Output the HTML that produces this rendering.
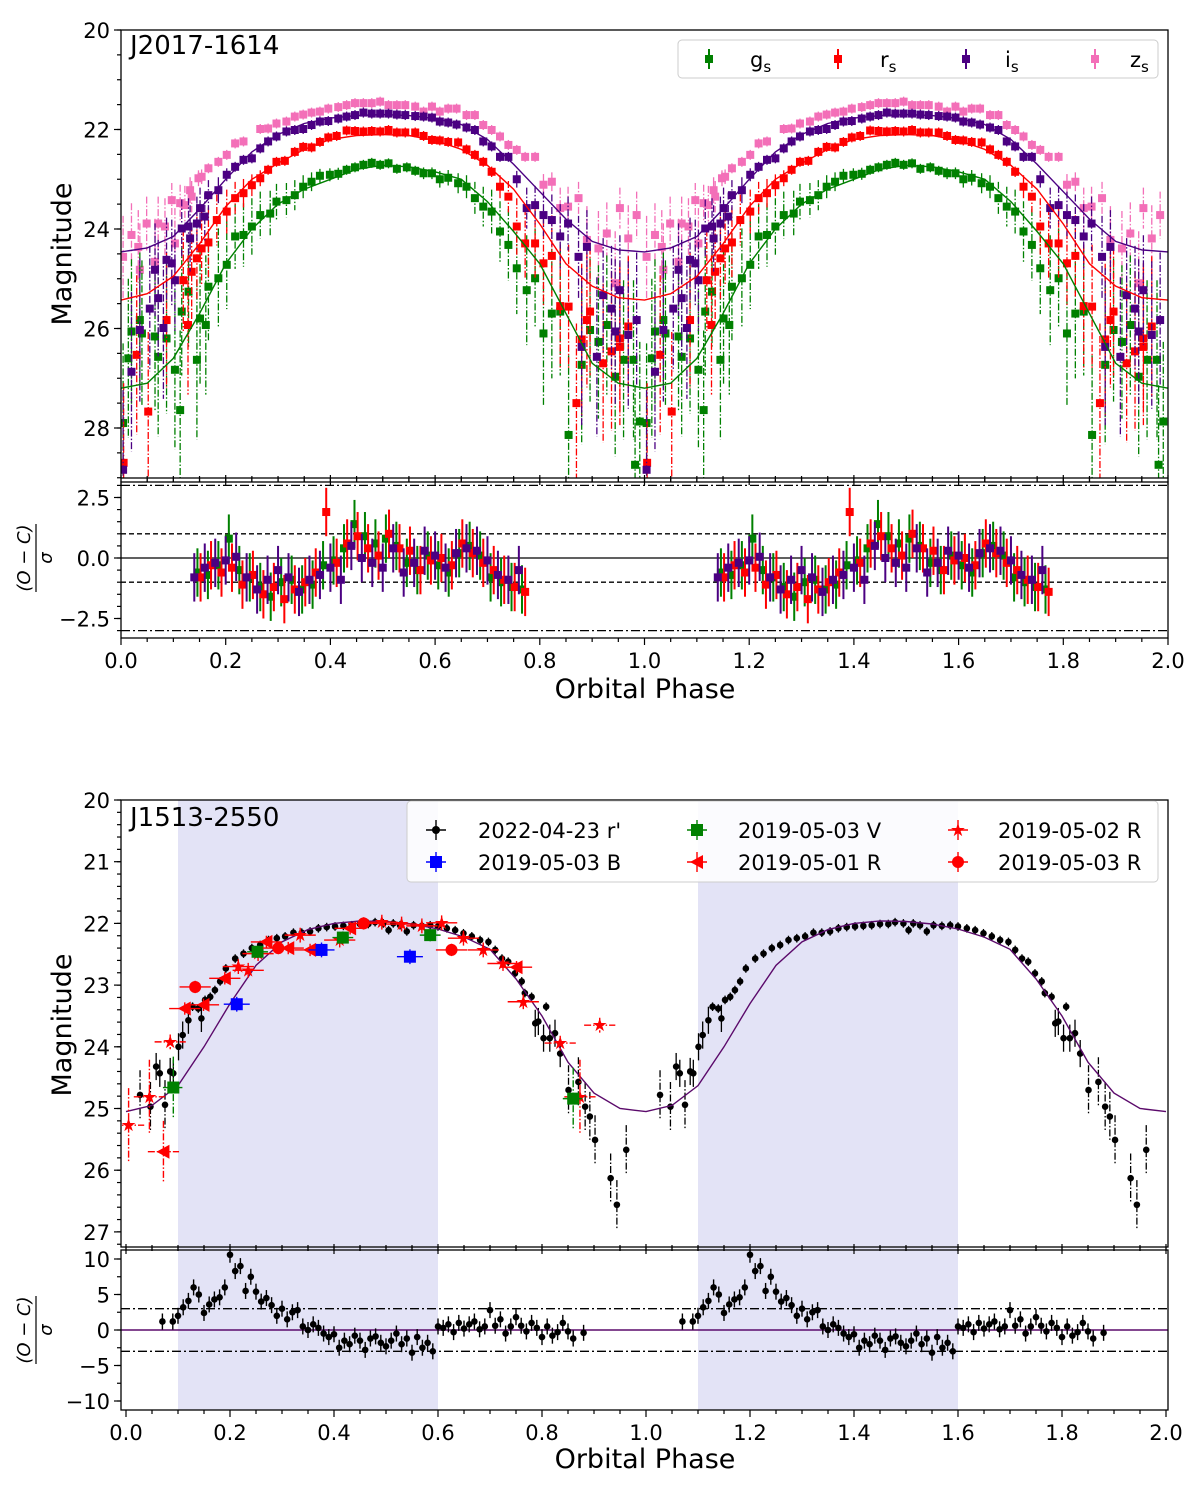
<!DOCTYPE html>
<html><head><meta charset="utf-8"><style>
body{margin:0;background:#fff}
svg text{font-family:"DejaVu Sans","Liberation Sans",sans-serif;fill:#000}
</style></head><body>
<svg id="fig" width="1200" height="1485" viewBox="0 0 1200 1485" xmlns="http://www.w3.org/2000/svg">
<defs>
<clipPath id="c1"><rect x="121" y="30" width="1047" height="448"/></clipPath>
<clipPath id="c2"><rect x="121" y="482" width="1047" height="156"/></clipPath>
<clipPath id="c3"><rect x="121" y="800" width="1047" height="447"/></clipPath>
<clipPath id="c4"><rect x="121" y="1250" width="1047" height="160"/></clipPath>
</defs>
<g id="layer"></g>
</svg>
<script>
// ---------- Top panel data (J2017-1614) ----------
const gPh = [0.004,0.014,0.020,0.036,0.040,0.065,0.071,0.087,0.103,0.113,0.116,0.129,0.145,0.151,0.162,0.167,0.186,0.202,0.218,0.234,0.250,0.266,0.285,0.297,0.316,0.332,0.348,0.364,0.380,0.399,0.415,0.431,0.447,0.463,0.479,0.495,0.511,0.527,0.546,0.562,0.578,0.594,0.609,0.625,0.644,0.660,0.676,0.692,0.708,0.724,0.740,0.756,0.775,0.791,0.807,0.823,0.839,0.855,0.880,0.896,0.912,0.928,0.944,0.960,0.979,0.982,0.991];
const gMag = [27.9,26.6,26.06,25.83,26.1,26.16,26.57,26.2,26.83,27.64,25.66,25.26,26.63,25.8,25.93,25.16,24.99,24.72,24.15,24.12,23.95,23.72,23.69,23.45,23.42,23.32,23.15,23.05,22.93,22.91,22.89,22.81,22.76,22.71,22.67,22.71,22.68,22.79,22.76,22.83,22.88,22.88,23.0,22.97,23.08,23.15,23.38,23.55,23.65,24.05,24.32,24.79,25.23,24.99,26.1,25.7,25.66,28.14,26.73,26.03,26.27,25.93,26.97,26.63,26.63,28.74,27.87];
const rPh = [0.005,0.030,0.052,0.087,0.119,0.128,0.135,0.145,0.154,0.167,0.183,0.202,0.218,0.234,0.250,0.266,0.281,0.297,0.313,0.332,0.348,0.364,0.380,0.396,0.412,0.431,0.447,0.463,0.479,0.495,0.511,0.527,0.543,0.562,0.578,0.594,0.609,0.625,0.644,0.660,0.676,0.692,0.708,0.724,0.740,0.756,0.772,0.791,0.807,0.823,0.839,0.855,0.870,0.880,0.890,0.896,0.921,0.937,0.953,0.953,0.969];
const rMag = [28.7,26.53,27.67,25.83,25.03,25.93,24.86,24.59,24.39,24.27,23.82,23.65,23.38,23.28,23.12,22.98,22.81,22.65,22.63,22.45,22.35,22.36,22.25,22.16,22.13,22.02,22.03,22.04,22.03,22.04,22.01,22.06,22.06,22.06,22.13,22.21,22.22,22.25,22.26,22.4,22.51,22.65,22.85,23.15,23.35,23.95,24.29,24.29,24.69,24.54,25.55,25.56,27.5,26.22,25.83,25.66,26.7,26.46,26.37,26.2,25.96];
const iPh = [0.004,0.020,0.036,0.055,0.065,0.071,0.081,0.087,0.097,0.103,0.116,0.129,0.132,0.145,0.151,0.160,0.167,0.186,0.202,0.218,0.234,0.250,0.266,0.281,0.297,0.316,0.332,0.348,0.364,0.380,0.396,0.415,0.431,0.447,0.463,0.479,0.495,0.511,0.527,0.543,0.562,0.578,0.594,0.609,0.625,0.641,0.660,0.676,0.692,0.708,0.724,0.740,0.756,0.775,0.791,0.807,0.823,0.839,0.854,0.874,0.880,0.890,0.909,0.921,0.937,0.944,0.953,0.969,0.985];
const iMag = [28.84,26.87,26.03,25.6,24.82,25.39,25.99,24.62,24.69,25.03,23.99,23.95,24.19,23.89,23.58,23.75,23.32,23.22,22.91,22.75,22.61,22.58,22.38,22.24,22.14,22.04,22.01,21.99,21.91,21.84,21.83,21.78,21.74,21.71,21.66,21.68,21.68,21.68,21.7,21.71,21.73,21.74,21.76,21.84,21.86,21.9,21.96,22.01,22.24,22.34,22.55,22.55,23.0,23.58,23.52,23.72,23.82,24.15,23.89,24.56,26.37,24.36,26.57,25.33,25.6,26.06,25.23,26.13,25.83];
const zPh = [0.004,0.020,0.033,0.036,0.049,0.065,0.071,0.084,0.097,0.103,0.113,0.122,0.132,0.135,0.148,0.154,0.167,0.186,0.202,0.218,0.234,0.266,0.281,0.297,0.316,0.332,0.348,0.364,0.380,0.396,0.415,0.431,0.447,0.463,0.479,0.495,0.511,0.527,0.543,0.562,0.578,0.594,0.609,0.625,0.641,0.660,0.676,0.692,0.708,0.724,0.740,0.756,0.772,0.791,0.807,0.823,0.839,0.854,0.874,0.890,0.912,0.928,0.944,0.953,0.969,0.985];
const zMag = [24.56,24.12,24.36,24.82,23.89,24.66,23.89,23.95,23.42,24.29,23.48,23.52,23.22,23.35,22.98,22.95,22.78,22.65,22.51,22.28,22.24,21.99,21.98,21.88,21.84,21.74,21.7,21.66,21.64,21.58,21.55,21.51,21.47,21.47,21.47,21.44,21.51,21.51,21.51,21.54,21.64,21.54,21.64,21.58,21.58,21.71,21.71,21.91,22.01,22.14,22.31,22.41,22.55,22.55,23.11,23.05,23.58,23.55,23.38,24.22,24.39,24.09,25.09,23.58,24.19,23.72];
const modelPhases = [0,0.05,0.1,0.15,0.2,0.25,0.3,0.35,0.4,0.45,0.5,0.55,0.6,0.65,0.7,0.75,0.8,0.85,0.9,0.95,1.0];
const gModel = [27.2,27.1,26.6,25.7,24.7,24.0,23.5,23.2,23.0,22.8,22.72,22.75,22.85,23.0,23.45,24.05,24.7,25.7,26.7,27.1,27.2];
const rModel = [25.43,25.3,24.95,24.3,23.55,23.0,22.68,22.4,22.2,22.12,22.1,22.12,22.22,22.4,22.72,23.2,23.9,24.7,25.15,25.38,25.43];
const iModel = [24.46,24.38,24.15,23.6,23.0,22.45,22.1,21.88,21.77,21.72,21.7,21.72,21.78,21.9,22.2,22.7,23.25,23.8,24.25,24.42,24.46];
const resPhases = [0.14,0.16,0.18,0.20,0.22,0.24,0.26,0.28,0.30,0.32,0.34,0.36,0.38,0.40,0.42,0.44,0.46,0.48,0.50,0.52,0.54,0.56,0.58,0.60,0.62,0.64,0.66,0.68,0.70,0.72,0.74,0.76];
const gRes = [-0.6,-0.7,-0.3,0.8,-0.5,-0.8,-1.2,-1.6,-1.0,-0.9,-1.3,-1.1,-0.3,-0.1,0.4,1.4,0.9,0.6,0.8,0.5,-0.2,-0.5,0.1,-0.3,-0.6,0.2,0.5,0.1,-0.8,-1.0,-1.2,-1.3];
const rRes = [-0.8,-0.3,-0.6,-0.4,-1.1,-0.7,-1.5,-1.2,-1.7,-1.3,-1.0,-0.6,1.9,-0.2,0.6,0.9,0.4,0.1,1.0,0.4,0.3,-0.5,-0.1,0.0,-0.3,0.6,0.2,-0.2,-0.5,-0.9,-1.2,-1.4];
const iRes = [-0.8,-0.4,-0.2,-0.1,0.05,-0.8,-1.3,-0.9,-0.5,-0.8,-1.4,-0.9,-0.7,-0.4,-0.9,0.5,0.0,-0.2,-0.4,0.4,-0.6,-0.2,0.3,0.1,-0.4,0.2,0.4,0.3,-0.1,-0.7,-0.9,-0.5];
const topYTicks = [20,22,24,26,28];
const topRTicks = [2.5,0.0,-2.5];
const xTicks = [0.0,0.2,0.4,0.6,0.8,1.0,1.2,1.4,1.6,1.8,2.0];

// ---------- Bottom panel data (J1513-2550) ----------
const bkPhase = [0.027,0.047,0.058,0.065,0.075,0.085,0.091,0.101,0.109,0.120,0.128,0.139,0.145,0.152,0.162,0.171,0.181,0.192,0.210,0.226,0.242,0.258,0.274,0.290,0.306,0.322,0.338,0.354,0.370,0.386,0.402,0.418,0.434,0.450,0.466,0.479,0.495,0.505,0.514,0.527,0.540,0.553,0.569,0.585,0.600,0.617,0.633,0.649,0.665,0.681,0.697,0.710,0.723,0.735,0.748,0.761,0.767,0.780,0.787,0.793,0.803,0.808,0.815,0.825,0.835,0.851,0.870,0.883,0.892,0.902,0.932,0.944,0.962];
const bkMag = [24.78,24.97,24.32,24.43,24.94,24.4,24.43,24.0,23.81,23.57,23.35,23.38,23.54,23.24,23.19,23.08,22.94,22.73,22.57,22.49,22.4,22.35,22.27,22.24,22.21,22.15,22.15,22.13,22.08,22.06,22.05,22.04,22.03,22.01,22.01,21.98,22.0,22.11,22.0,22.03,22.13,22.03,22.04,22.03,22.05,22.08,22.11,22.16,22.21,22.27,22.3,22.43,22.57,22.62,22.81,22.94,23.13,23.19,23.62,23.59,23.86,23.35,23.86,23.78,24.11,24.7,24.57,24.97,25.13,25.51,26.13,26.56,25.67];
const bkResPhase = [0.07,0.09,0.10,0.11,0.12,0.13,0.14,0.15,0.16,0.17,0.18,0.19,0.20,0.21,0.22,0.23,0.24,0.25,0.26,0.27,0.28,0.29,0.30,0.31,0.32,0.33,0.34,0.35,0.36,0.37,0.38,0.39,0.40,0.41,0.42,0.43,0.44,0.45,0.46,0.47,0.48,0.49,0.50,0.51,0.52,0.53,0.54,0.55,0.56,0.57,0.58,0.59,0.60,0.61,0.62,0.63,0.64,0.65,0.66,0.67,0.68,0.69,0.70,0.71,0.72,0.73,0.74,0.75,0.76,0.77,0.78,0.79,0.80,0.81,0.82,0.83,0.84,0.85,0.86,0.88];
const bkRes = [1.2,1.2,2.0,3.2,4.1,6.0,5.0,2.4,3.6,4.3,4.6,6.0,10.6,8.3,9.0,5.5,7.5,5.4,4.0,4.5,3.5,2.0,3.0,1.5,2.5,2.8,0.5,0.0,0.8,0.3,-0.5,-1.0,-0.6,-2.5,-1.5,-2.0,-0.8,-1.5,-2.8,-1.2,-0.9,-1.8,-2.3,-1.5,-0.5,-2.0,-1.2,-3.2,-1.0,-2.5,-1.8,-3.0,0.5,0.3,0.8,-0.3,1.0,0.2,0.8,1.2,0.1,0.5,2.8,0.6,1.5,-0.5,0.5,1.8,0.6,-0.2,1.0,0.3,-1.0,0.5,-0.8,-0.3,1.0,-0.2,-1.2,-0.4];
const bModelPhase = [0,0.05,0.1,0.15,0.2,0.25,0.3,0.35,0.4,0.45,0.5,0.55,0.6,0.65,0.7,0.75,0.8,0.85,0.9,0.95,1.0];
const bModel = [25.05,24.95,24.63,24.0,23.3,22.68,22.3,22.1,22.0,21.96,21.97,22.01,22.09,22.22,22.42,22.9,23.5,24.25,24.75,25.0,25.05];
const bPhase = [0.213,0.376,0.546]; const bMag = [23.31,22.43,22.54];
const vPhase = [0.091,0.253,0.417,0.585,0.860]; const vMag = [24.66,22.46,22.23,22.19,24.84];
const r1Phase = [0.072,0.113,0.149,0.190,0.270,0.312,0.354,0.431,0.751]; const r1Mag = [25.7,23.38,23.32,22.89,22.3,22.4,22.43,22.08,22.71];
const r2Phase = [0.005,0.045,0.085,0.216,0.235,0.254,0.335,0.411,0.492,0.530,0.569,0.607,0.649,0.687,0.725,0.764,0.835,0.873,0.911]; const r2Mag = [25.27,24.81,23.92,22.7,22.76,22.49,22.19,22.27,21.98,22.01,22.04,21.99,22.24,22.43,22.65,23.27,23.94,24.81,23.65];
const r3Phase = [0.133,0.293,0.457,0.626]; const r3Mag = [23.03,22.4,22.0,22.43];
const botYTicks = [20,21,22,23,24,25,26,27];
const botRTicks = [10,5,0,-5,-10];

// ---------- scales ----------
const X1 = p => 121 + p*523.5;
const Y1 = m => 30 + (m-20)*49.75;
const R1 = v => 558 - v*24.2;
const X2 = p => 126 + p*520;
const Y2 = m => 800 + (m-20)*61.7;
const R2 = v => 1330 - v*7.1;
const errTop = m => Math.min(1.6, Math.max(0.1, (m-22.6)*0.42));
const errBot = m => m>24.5?0.4:(m>23.5?0.22:0.07);

const NS = 'http://www.w3.org/2000/svg';
const root = document.getElementById('layer');
function mk(tag, attrs, parent){
  const el = document.createElementNS(NS, tag);
  for (const k in attrs) el.setAttribute(k, attrs[k]);
  (parent||root).appendChild(el);
  return el;
}
function grp(clip, name){
  const g = mk('g', clip ? {'clip-path':'url(#'+clip+')'} : {});
  
  
  return g;
}
const GREEN='#008000', RED='#ff0000', INDIGO='#4b0082', PINK='#f36fb8';
const DASHDOT='7,2,1.5,2';

const shade = grp(null,'shaded-regions');
[[0.1,0.6],[1.1,1.6]].forEach(([a,b])=>{
  const r = mk('rect',{x:X2(a),y:800,width:X2(b)-X2(a),height:610,fill:'#e3e3f6'},shade);
  
  
});

// ---------- top main ----------
function bandTop(phs, mags, color, name, g){
  for (let c=0;c<2;c++){
    phs.forEach((p,i)=>{
      const x = X1(p+c), er = errTop(mags[i]);
      const e = mk('line',{x1:x,x2:x,y1:Y1(mags[i]-er),y2:Y1(mags[i]+er),stroke:color,'stroke-width':1.3,'stroke-dasharray':er>0.3?DASHDOT:'none'},g);
      
      
      const s = mk('rect',{x:x-4,y:Y1(mags[i])-4,width:8,height:8,fill:color},g);
      
      
    });
  }
}
function modelLine(phs, vals, X, Y, color, name, g, cycles){
  let pts=[];
  for (let c=0;c<cycles;c++) phs.forEach((p,i)=>pts.push(X(p+c).toFixed(1)+','+Y(vals[i]).toFixed(1)));
  const l = mk('polyline',{points:pts.join(' '),fill:'none',stroke:color,'stroke-width':1.4},g);
  
  
}
const gTop = grp('c1','top-lightcurve');
bandTop(zPh,zMag,PINK,'z-band',gTop);
bandTop(gPh,gMag,GREEN,'g-band',gTop);
bandTop(rPh,rMag,RED,'r-band',gTop);
bandTop(iPh,iMag,INDIGO,'i-band',gTop);
modelLine(modelPhases,gModel,X1,Y1,GREEN,'g-model',gTop,2);
modelLine(modelPhases,rModel,X1,Y1,RED,'r-model',gTop,2);
modelLine(modelPhases,iModel,X1,Y1,INDIGO,'i-model',gTop,2);

// ---------- top residual ----------
const gTR = grp('c2','top-residuals');
[[1,'-'],[-1,'-'],[3,'dd'],[-3,'dd'],[0,'s']].forEach(([v,st])=>{
  const l = mk('line',{x1:121,x2:1168,y1:R1(v),y2:R1(v),stroke:'#000','stroke-width':1.3,'stroke-dasharray':st==='-'?'5,3':(st==='dd'?'9,3,2,3':'none')},gTR);
  
  
});
function resTop(vals,color,name,off){
  for (let c=0;c<2;c++) resPhases.forEach((p,i)=>{
    const x = X1(p+c+off);
    const e = mk('line',{x1:x,x2:x,y1:R1(vals[i]+1),y2:R1(vals[i]-1),stroke:color,'stroke-width':2},gTR);
    
    
    const s = mk('rect',{x:x-4,y:R1(vals[i])-4,width:8,height:8,fill:color},gTR);
    
    
  });
}
resTop(gRes,GREEN,'g',0.006);
resTop(rRes,RED,'r',0.012);
resTop(iRes,INDIGO,'i',0);

// ---------- bottom main ----------
const gBot = grp('c3','bottom-lightcurve');
for (let c=0;c<2;c++) bkPhase.forEach((p,i)=>{
  const x = X2(p+c), m=bkMag[i], err=errBot(m);
  const e = mk('line',{x1:x,x2:x,y1:Y2(m-err),y2:Y2(m+err),stroke:'#000','stroke-width':1.3,'stroke-dasharray':m>24.5?DASHDOT:'none'},gBot);
  
  
  const d = mk('circle',{cx:x,cy:Y2(m),r:3.3,fill:'#000'},gBot);
  
  
});
modelLine(bModelPhase,bModel,X2,Y2,'#5b0a6b','purple-model',gBot,2);
function extra(phs,mags,color,shape,name,xe,ye,dash){
  phs.forEach((p,i)=>{
    const x=X2(p), y=Y2(mags[i]);
    const yy = mags[i]>24 ? ye*5 : ye;
    const dd = (dash && mags[i]>23.5)?DASHDOT:'none';
    const h = mk('line',{x1:X2(p-xe),x2:X2(p+xe),y1:y,y2:y,stroke:color,'stroke-width':1.4,'stroke-dasharray':dd},gBot);
    
    
    const v = mk('line',{x1:x,x2:x,y1:Y2(mags[i]-yy),y2:Y2(mags[i]+yy),stroke:color,'stroke-width':1.4,'stroke-dasharray':dd},gBot);
    
    
    let s;
    if (shape==='sq') s = mk('rect',{x:x-6,y:y-6,width:12,height:12,fill:color},gBot);
    else if (shape==='tri') s = mk('polygon',{points:`${x-7},${y} ${x+6},${y-7} ${x+6},${y+7}`,fill:color},gBot);
    else if (shape==='star') { s = mk('text',{x:x,y:y+6,'text-anchor':'middle','font-size':18,style:'fill:'+color},gBot); s.textContent='★'; }
    else s = mk('circle',{cx:x,cy:y,r:6,fill:color},gBot);
    
    
  });
}
extra(r1Phase,r1Mag,RED,'tri','r-2019-05-01',0.03,0.1,true);
extra(r2Phase,r2Mag,RED,'star','r-2019-05-02',0.03,0.12,true);
extra(bPhase,bMag,'#0000ff','sq','b-2019-05-03',0.025,0.12,false);
extra(vPhase,vMag,GREEN,'sq','v-2019-05-03',0.02,0.1,true);
extra(r3Phase,r3Mag,RED,'circ','r-2019-05-03',0.03,0.1,false);

// ---------- bottom residual ----------
const gBR = grp('c4','bottom-residuals');
[3,-3].forEach(v=>{
  const l = mk('line',{x1:121,x2:1168,y1:R2(v),y2:R2(v),stroke:'#000','stroke-width':1.3,'stroke-dasharray':'9,3,2,3'},gBR);
  
  
});
const zl = mk('line',{x1:121,x2:1168,y1:R2(0),y2:R2(0),stroke:'#5b0a6b','stroke-width':1.5},gBR);


for (let c=0;c<2;c++) bkResPhase.forEach((p,i)=>{
  const x=X2(p+c), y=R2(bkRes[i]);
  const e = mk('line',{x1:x,x2:x,y1:y-8,y2:y+8,stroke:'#000','stroke-width':1.4},gBR);
  
  
  const d = mk('circle',{cx:x,cy:y,r:3.3,fill:'#000'},gBR);
  
  
});

// ---------- axes ----------
const ax = grp(null,'axes');
function frame(y0,y1,name){
  const r = mk('rect',{x:121,y:y0,width:1047,height:y1-y0,fill:'none',stroke:'#000','stroke-width':1.3},ax);
  
  
}
frame(30,478,'top-main-frame'); frame(482,638,'top-residual-frame');
frame(800,1247,'bottom-main-frame'); frame(1250,1410,'bottom-residual-frame');
function tick(x1,y1,x2,y2){
  const t = mk('line',{x1,y1,x2,y2,stroke:'#000','stroke-width':1.2},ax);
  
  
}
function label(x,y,txt,anchor,size,name){
  const t = mk('text',{x,y,'text-anchor':anchor,'font-size':size},ax);
  t.textContent = txt;
  
  
  return t;
}
[[X1,478,false],[X1,638,true],[X2,1247,false],[X2,1410,true]].forEach(([X,y,lab])=>{
  for (let k=0;k<=40;k++){ const p=k*0.05; const major = k%4===0; const x=X(p);
    if (x<121||x>1168) continue;
    tick(x,y,x,y+(major?7:4));
    if (!lab){ tick(x, y+4, x, y+(major?-3:-2)); }
  }
  if (lab) xTicks.forEach(p=>label(X(p),y+30,p.toFixed(1),'middle',21,'x-tick-label'));
});
topYTicks.forEach(m=>{tick(114,Y1(m),121,Y1(m)); label(110,Y1(m)+8,String(m),'end',21,'y-tick-label');});
for (let m=20;m<=29;m+=0.5) tick(117,Y1(m),121,Y1(m));
topRTicks.forEach(v=>{tick(114,R1(v),121,R1(v)); label(110,R1(v)+8,v.toFixed(1).replace('-','−'),'end',21,'residual-tick-label');});
for (let v=-3;v<=3;v+=0.5) tick(117,R1(v),121,R1(v));
botYTicks.forEach(m=>{tick(114,Y2(m),121,Y2(m)); label(110,Y2(m)+8,String(m),'end',21,'y-tick-label');});
for (let m=20;m<=27.2;m+=0.2) tick(117,Y2(m),121,Y2(m));
botRTicks.forEach(v=>{tick(114,R2(v),121,R2(v)); label(110,R2(v)+8,String(v).replace('-','−'),'end',21,'residual-tick-label');});
for (let v=-10;v<=10;v+=2.5) tick(117,R2(v),121,R2(v));

label(130,54,'J2017-1614','start',26,'panel-title-top');
label(130,826,'J1513-2550','start',26,'panel-title-bottom');
label(645,698,'Orbital Phase','middle',27,'x-axis-title-top');
label(645,1468,'Orbital Phase','middle',27,'x-axis-title-bottom');
[254,1025].forEach(cy=>{
  const t = label(0,0,'Magnitude','middle',27,'y-axis-title');
  t.setAttribute('transform',`translate(71,${cy}) rotate(-90)`);
});
[558,1330].forEach(cy=>{
  const t = label(0,0,'(O − C)','middle',18,'residual-axis-title');
  t.setAttribute('transform',`translate(30,${cy}) rotate(-90)`);
  t.setAttribute('font-style','italic');
  const b = label(0,0,'σ','middle',18,'residual-axis-sigma');
  b.setAttribute('transform',`translate(52,${cy}) rotate(-90)`);
  b.setAttribute('font-style','italic');
  const ln = mk('line',{x1:36,x2:36,y1:cy-34,y2:cy+34,stroke:'#000','stroke-width':1.2},ax);
  
  
});

function legendBox(x,y,w,h,name){
  const r = mk('rect',{x,y,width:w,height:h,rx:4,fill:'#fff','fill-opacity':0.85,stroke:'#ccc','stroke-width':1},ax);
  
  
}
legendBox(678,40,480,38,'legend-top');
[['g',GREEN,709,750],['r',RED,838,880],['i',INDIGO,966,1005],['z',PINK,1095,1130]].forEach(([b,c,mx,tx])=>{
  const l = mk('line',{x1:mx,x2:mx,y1:49,y2:69,stroke:c,'stroke-width':2},ax);
  
  
  const s = mk('rect',{x:mx-4,y:55,width:8,height:8,fill:c},ax);
  
  
  const t = label(tx,67,b,'start',21,'legend-label');
  const sub = mk('tspan',{'font-size':15,dy:5},t);
  sub.textContent='s';
  
  
});
legendBox(407,801,751,81,'legend-bottom');
const legB = [
  ['2022-04-23 r\'','#000','circ',436,478,830],
  ['2019-05-03 B','#0000ff','sq',436,478,862],
  ['2019-05-03 V',GREEN,'sq',697,738,830],
  ['2019-05-01 R',RED,'tri',697,738,862],
  ['2019-05-02 R',RED,'star',958,998,830],
  ['2019-05-03 R',RED,'circ',958,998,862]];
legB.forEach(([txt,c,sh,mx,tx,y])=>{
  const v = mk('line',{x1:mx,x2:mx,y1:y-10,y2:y+10,stroke:c,'stroke-width':1.4},ax);
  
  
  const h = mk('line',{x1:mx-10,x2:mx+10,y1:y,y2:y,stroke:c,'stroke-width':1.4},ax);
  
  
  let s;
  if (sh==='sq') s = mk('rect',{x:mx-6,y:y-6,width:12,height:12,fill:c},ax);
  else if (sh==='tri') s = mk('polygon',{points:`${mx-7},${y} ${mx+6},${y-7} ${mx+6},${y+7}`,fill:c},ax);
  else if (sh==='star') { s = mk('text',{x:mx,y:y+6,'text-anchor':'middle','font-size':18,style:'fill:'+c},ax); s.textContent='★'; }
  else s = mk('circle',{cx:mx,cy:y,r:c==='#000'?4:6,fill:c},ax);
  
  
  label(tx,y+8,txt,'start',21,'legend-label');
});
</script>
</body></html>
